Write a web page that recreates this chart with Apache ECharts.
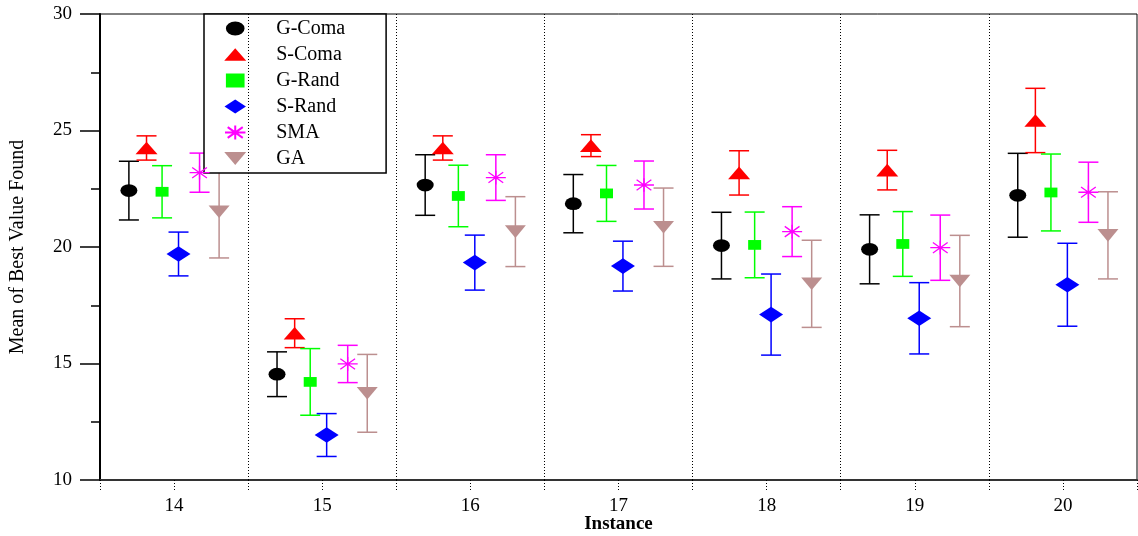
<!DOCTYPE html>
<html>
<head>
<meta charset="utf-8">
<script src="https://cdn.jsdelivr.net/npm/echarts@6/dist/echarts.min.js"></script>
<style>html,body{margin:0;padding:0;background:#fff}#c{width:1138px;height:536px}</style>
</head>
<body>
<div id="c"></div>
<script>
// ---- data ----
var instances = [14, 15, 16, 17, 18, 19, 20];
var methods = ['G-Coma', 'S-Coma', 'G-Rand', 'S-Rand', 'SMA', 'GA'];
var gComaMean = [22.42, 14.54, 22.66, 21.86, 20.06, 19.90, 22.22];
var gComaErr  = [1.26, 0.96, 1.30, 1.25, 1.43, 1.48, 1.80];
var sComaMean = [24.25, 16.30, 24.25, 24.35, 23.18, 23.30, 25.43];
var sComaErr  = [0.52, 0.62, 0.52, 0.47, 0.95, 0.85, 1.38];
var gRandMean = [22.37, 14.21, 22.19, 22.30, 20.09, 20.13, 22.34];
var gRandErr  = [1.12, 1.43, 1.32, 1.20, 1.41, 1.39, 1.65];
var sRandMean = [19.70, 11.93, 19.33, 19.18, 17.10, 16.94, 18.38];
var sRandErr  = [0.94, 0.92, 1.18, 1.07, 1.74, 1.53, 1.78];
var smaMean   = [23.19, 14.98, 22.98, 22.66, 20.66, 19.97, 22.35];
var smaErr    = [0.84, 0.80, 0.98, 1.03, 1.07, 1.40, 1.29];
var gaMean    = [21.51, 13.72, 20.66, 20.85, 18.42, 18.54, 20.50];
var gaErr     = [1.98, 1.67, 1.50, 1.68, 1.87, 1.96, 1.87];
var yTicks = [10, 15, 20, 25, 30];

// ---- build ----
var means = [gComaMean, sComaMean, gRandMean, sRandMean, smaMean, gaMean];
var errs = [gComaErr, sComaErr, gRandErr, sRandErr, smaErr, gaErr];
var dodge = [-0.305, -0.186, -0.081, 0.030, 0.172, 0.304];
var colors = ['#000000', '#ff0000', '#00ff00', '#0000ff', '#ff00ff', '#bc8f8f'];
var symbols = [
  'path://M-8,0A8,6,0,1,0,8,0A8,6,0,1,0,-8,0Z',
  'path://M0,-6L10.5,6L-10.5,6Z',
  'path://M-6,-4.5L6,-4.5L6,4.5L-6,4.5Z',
  'path://M0,-7.5L11.5,0L0,7.5L-11.5,0Z',
  'path://M0,-6.5L0,6.5M-9.5,0L9.5,0M-7,-5L7,5M-7,5L7,-5',
  'path://M-10,-6L10,-6L0,6Z'
];
var symSizes = [17, 22, 13, 24, 20, 21];

var series = [];
methods.forEach(function (m, k) {
  var pts = instances.map(function (c, i) { return [c + dodge[k], means[k][i]]; });
  var isStar = k === 4;
  series.push({
    name: m, type: 'scatter', z: 5,
    symbol: symbols[k], symbolSize: symSizes[k],
    symbolKeepAspect: true,
    itemStyle: isStar ? { color: 'rgba(0,0,0,0)', borderColor: colors[k], borderWidth: 1.3, opacity: 1 }
                      : { color: colors[k], opacity: 1 },
    data: pts
  });
});
methods.forEach(function (m, k) {
  var rows = instances.map(function (c, i) {
    return [c + dodge[k], means[k][i], means[k][i] - errs[k][i], means[k][i] + errs[k][i]];
  });
  var s = {
    name: m + ' err', type: 'custom', z: 3,
    renderItem: function (params, api) {
      var x = api.value(0);
      var lo = api.coord([x, api.value(2)]);
      var hi = api.coord([x, api.value(3)]);
      var cw = 10;
      var st = { stroke: colors[k], lineWidth: 1.5 };
      return { type: 'group', children: [
        { type: 'line', shape: { x1: hi[0], y1: hi[1], x2: lo[0], y2: lo[1] }, style: st },
        { type: 'line', shape: { x1: hi[0] - cw, y1: hi[1], x2: hi[0] + cw, y2: hi[1] }, style: st },
        { type: 'line', shape: { x1: lo[0] - cw, y1: lo[1], x2: lo[0] + cw, y2: lo[1] }, style: st }
      ]};
    },
    encode: { x: 0, y: [1, 2, 3] },
    data: rows
  };
  if (k === 0) {
    s.markLine = {
      silent: true, symbol: 'none', label: { show: false },
      lineStyle: { color: '#000', type: [1, 2], width: 1 },
      data: instances.slice(0, -1).map(function (c) { return { xAxis: c + 0.5 }; })
    };
  }
  series.push(s);
});

var serif = 'Liberation Serif';
var chart = echarts.init(document.getElementById('c'));
chart.setOption({
  animation: false,
  backgroundColor: '#fff',
  grid: { left: 100, top: 14, right: 1, bottom: 56, show: true, borderColor: '#000', borderWidth: 1,
          containLabel: false, outerBoundsMode: 'none' },
  legend: {
    data: methods, orient: 'vertical', left: 204, top: 14,
    padding: [4.5, 41, 4.5, 20],
    itemWidth: 22, itemHeight: 14, itemGap: 6,
    backgroundColor: '#fff', borderColor: '#000', borderWidth: 1.5,
    textStyle: { fontFamily: serif, fontSize: 20, lineHeight: 14, color: '#000', padding: [0, 0, 0, 25] }
  },
  xAxis: {
    type: 'value', min: 13.5, max: 20.5, interval: 0.5,
    name: 'Instance', nameLocation: 'middle', nameGap: 35, nameMoveOverlap: false,
    nameTextStyle: { fontFamily: serif, fontWeight: 'bold', fontSize: 19, color: '#000' },
    axisLine: { lineStyle: { color: '#333', width: 2 } },
    axisTick: { show: true, length: 10, lineStyle: { color: '#000', type: [1, 2] } },
    splitLine: { show: false },
    axisLabel: {
      margin: 17, fontFamily: serif, fontSize: 19, color: '#000',
      formatter: function (v) { return instances.indexOf(v) >= 0 ? String(v) : ''; }
    }
  },
  yAxis: {
    type: 'value', min: yTicks[0], max: yTicks[yTicks.length - 1], interval: 5,
    name: 'Mean of Best Value Found', nameLocation: 'middle', nameGap: 72, nameMoveOverlap: false,
    nameTextStyle: { fontFamily: serif, fontSize: 20, color: '#000' },
    axisLine: { show: true, lineStyle: { color: '#000', width: 2 } },
    axisTick: { show: true, length: 20, lineStyle: { color: '#000', width: 1.5 } },
    minorTick: { show: true, splitNumber: 2, length: 9, lineStyle: { color: '#000', width: 1.5 } },
    splitLine: { show: false },
    axisLabel: { margin: 28, fontFamily: serif, fontSize: 19, color: '#000' }
  },
  series: series
});
</script>
</body>
</html>
